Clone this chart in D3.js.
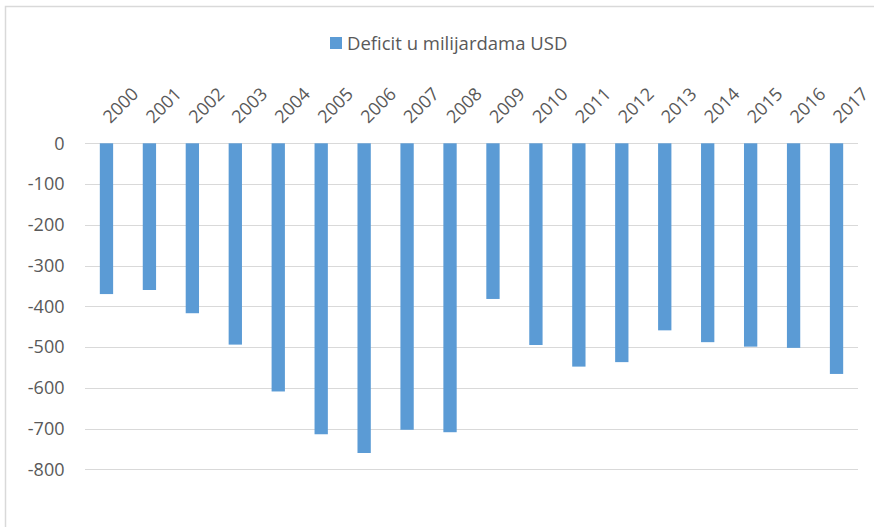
<!DOCTYPE html>
<html>
<head>
<meta charset="utf-8">
<script src="https://cdn.jsdelivr.net/npm/d3@7"></script>
<style>
  html, body { margin: 0; padding: 0; background: #fff; }
  svg { display: block; }
  text { font-family: "Open Sans", sans-serif; fill: #595959; }
</style>
</head>
<body>
<svg id="chart" width="874" height="527"></svg>
<script>
const categories = ["2000","2001","2002","2003","2004","2005","2006","2007","2008","2009","2010","2011","2012","2013","2014","2015","2016","2017"];
const values = [-370, -360, -417, -494, -609, -714, -760, -703, -709, -382, -495, -548, -537, -459, -488, -499, -502, -566];
const yTicks = [0, -100, -200, -300, -400, -500, -600, -700, -800];
const seriesName = "Deficit u milijardama USD";

const svg = d3.select("#chart");
const W = 874, H = 527;

// outer frame (chart area border, cropped at right and bottom)
svg.append("rect")
  .attr("x", 5.5).attr("y", 6.5)
  .attr("width", W + 20).attr("height", H + 20)
  .attr("fill", "none").attr("stroke", "#d9d9d9").attr("stroke-width", 1.5);

const plot = { left: 85, right: 858, top: 143.3, bottom: 469.3 };

const x = d3.scaleBand()
  .domain(categories)
  .range([plot.left, plot.right])
  .paddingInner(0.69)
  .paddingOuter(0.345);

const y = d3.scaleLinear()
  .domain([0, -800])
  .range([plot.top, plot.bottom]);

// gridlines
svg.append("g")
  .selectAll("line")
  .data(yTicks)
  .join("line")
  .attr("x1", plot.left).attr("x2", plot.right)
  .attr("y1", d => Math.round(y(d)) + 0.5).attr("y2", d => Math.round(y(d)) + 0.5)
  .attr("stroke", "#d9d9d9").attr("stroke-width", 1);

// y axis labels
const yAxis = d3.axisLeft(y).tickValues(yTicks).tickSize(0).tickPadding(0).tickFormat(d3.format("d"));
const gy = svg.append("g").attr("transform", `translate(${64.5},0)`).call(yAxis);
gy.select(".domain").remove();
gy.selectAll("text")
  .attr("font-size", 18)
  .attr("font-family", "Open Sans, sans-serif")
  .attr("fill", "#595959")
  .text(d => d === 0 ? "0" : "-" + Math.abs(d));

// bars
svg.append("g")
  .selectAll("rect")
  .data(categories.map((c, i) => ({ c, v: values[i] })))
  .join("rect")
  .attr("x", d => x(d.c))
  .attr("width", x.bandwidth())
  .attr("y", d => y(0))
  .attr("height", d => y(d.v) - y(0))
  .attr("fill", "#5b9bd5");

// x axis labels (rotated, above the zero line)
const xAxis = d3.axisTop(x).tickSize(0).tickPadding(0);
const gx = svg.append("g").attr("transform", `translate(0,${plot.top})`).call(xAxis);
gx.select(".domain").remove();
gx.selectAll(".tick text")
  .attr("font-size", 18)
  .attr("font-family", "Open Sans, sans-serif")
  .attr("fill", "#595959")
  .attr("text-anchor", "start")
  .attr("dy", 0)
  .attr("y", 0)
  .attr("transform", "translate(4,-19) rotate(-45)");

// legend
const lg = svg.append("g");
lg.append("rect")
  .attr("x", 330).attr("y", 37)
  .attr("width", 12).attr("height", 12)
  .attr("fill", "#5b9bd5");
lg.append("text")
  .attr("x", 347).attr("y", 49.5)
  .attr("font-size", 18.5)
  .text(seriesName);
</script>
</body>
</html>
